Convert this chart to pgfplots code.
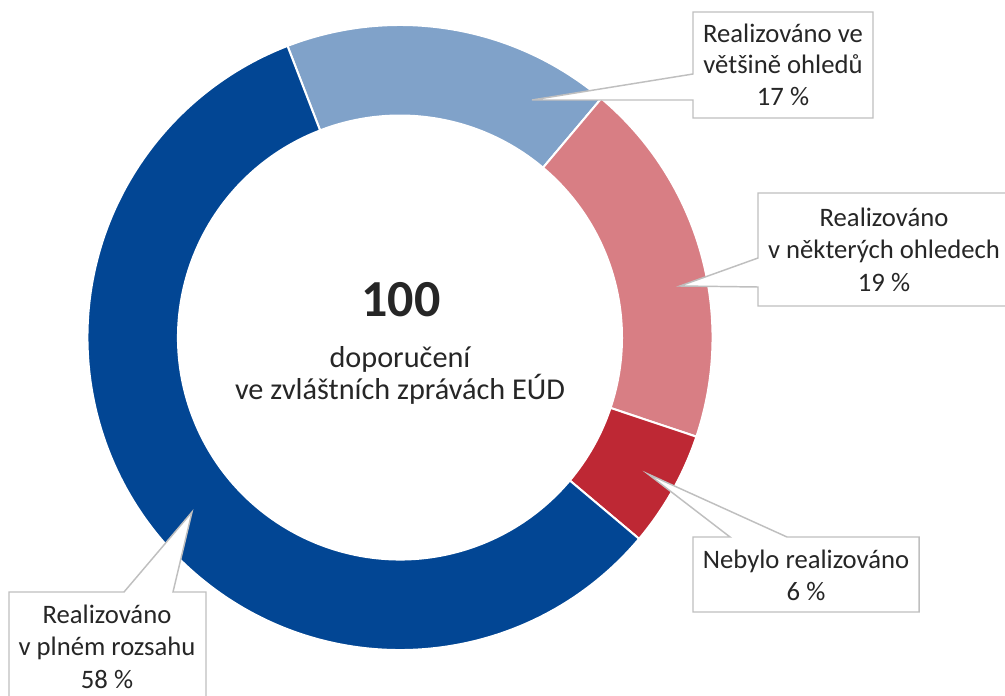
\documentclass[border=0pt]{standalone}
\usepackage{fontspec}
\setmainfont{Carlito}
\usepackage{pgfplots}
\usepackage{pgfplotstable}
\pgfplotsset{compat=1.18}
\definecolor{cDark}{RGB}{2,70,148}
\definecolor{cLight}{RGB}{128,162,201}
\definecolor{cPink}{RGB}{216,126,132}
\definecolor{cRed}{RGB}{190,40,52}
\definecolor{cBorder}{RGB}{191,191,191}
\definecolor{cText}{RGB}{38,38,38}

\pgfplotstableread{
value colour
17 cLight
19 cPink
6 cRed
58 cDark
}\donut

\begin{document}
\begin{tikzpicture}
\path[use as bounding box] (0,0) rectangle (753.75pt,521.25pt);
\clip (0,0) rectangle (753.75pt,521.25pt);
\begin{axis}[x=0.75pt,y=0.75pt,y dir=reverse,xmin=0,xmax=1005,ymin=0,ymax=695,
  enlargelimits=false,hide axis,clip=false]
\pgfplotstablegetrowsof{\donut}
\pgfmathtruncatemacro{\lastrow}{\pgfplotsretval-1}
\gdef\angA{111.1}
\pgfplotsforeachungrouped \i in {0,...,\lastrow}{%
  \pgfplotstablegetelem{\i}{value}\of\donut \let\val\pgfplotsretval
  \pgfplotstablegetelem{\i}{colour}\of\donut \let\col\pgfplotsretval
  \pgfmathsetmacro{\angB}{\angA-3.6*\val}%
  \edef\temp{\noexpand\fill[\col, draw=white, line width=1.5pt] (axis cs:400,337.5) ++(\angA:234.4pt) arc[start angle=\angA, end angle=\angB, radius=234.4pt] -- ++(\angB:-67.9pt) arc[start angle=\angB, end angle=\angA, radius=166.5pt] -- cycle;}%
  \temp
  \global\let\angA\angB
}
% callouts
\draw[cBorder, fill=white, line width=1.1pt, line join=miter]
  (axis cs:693,12) -- (axis cs:873,12) -- (axis cs:873,118) -- (axis cs:693,118)
  -- (axis cs:693,100) -- (axis cs:532,100) -- (axis cs:693,74) -- cycle;
\draw[cBorder, fill=white, line width=1.1pt]
  (axis cs:758,193) -- (axis cs:1015,193) -- (axis cs:1015,306) -- (axis cs:758,306)
  -- (axis cs:758,287) -- (axis cs:680,286) -- (axis cs:758,258) -- cycle;
\draw[cBorder, fill=white, line width=1.1pt]
  (axis cs:693,537) -- (axis cs:730,537) -- (axis cs:648,474) -- (axis cs:787,537)
  -- (axis cs:919,537) -- (axis cs:919,612) -- (axis cs:693,612) -- cycle;
\draw[cBorder, fill=white, line width=1.1pt]
  (axis cs:9,592) -- (axis cs:124,592) -- (axis cs:192,512) -- (axis cs:173,592)
  -- (axis cs:206,592) -- (axis cs:206,710) -- (axis cs:9,710) -- cycle;
% labels
\begin{scope}[every node/.style={text=cText, font=\fontsize{20}{24}\selectfont, anchor=base, inner sep=0pt}]
\node at (axis cs:783,42.3) {Realizováno ve};
\node at (axis cs:783,74) {většině ohledů};
\node at (axis cs:783,106) {17 \%};
\node at (axis cs:884,226.7) {Realizováno};
\node at (axis cs:884,258.3) {v některých ohledech};
\node at (axis cs:884,291.7) {19 \%};
\node at (axis cs:806,568.3) {Nebylo realizováno};
\node at (axis cs:806,600) {6 \%};
\node at (axis cs:107,623) {Realizováno};
\node at (axis cs:107,655) {v plném rozsahu};
\node at (axis cs:107,688) {58 \%};
\node[font=\fontsize{22.7}{27}\selectfont] at (axis cs:400,367) {doporučení};
\node[font=\fontsize{22.7}{27}\selectfont] at (axis cs:400,399) {ve zvláštních zprávách EÚD};
\node[font=\bfseries\fontsize{39}{46}\selectfont] at (axis cs:401,316.7) {100};
\end{scope}
\end{axis}
\end{tikzpicture}
\end{document}
